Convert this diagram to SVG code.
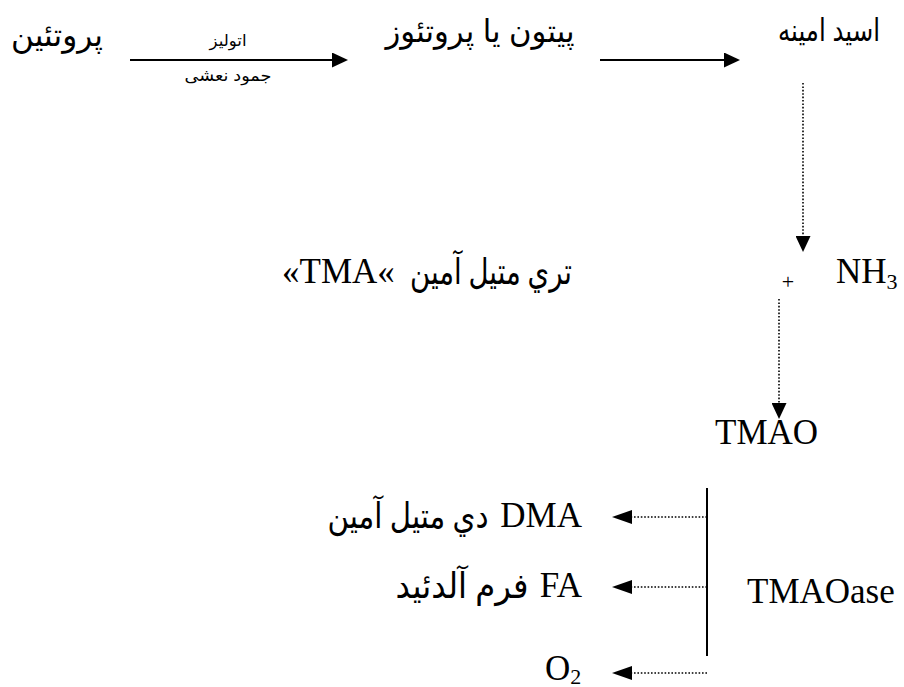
<svg xmlns="http://www.w3.org/2000/svg" width="904" height="687" viewBox="0 0 904 687">
<style>
.ar{font-family:"Liberation Sans","DejaVu Sans",sans-serif;fill:#000;direction:rtl}
.ars{font-family:"Liberation Serif","DejaVu Sans",serif;fill:#000;direction:rtl}
.lat{font-family:"Liberation Serif","Times New Roman",serif;fill:#000;font-size:35px}
.solid{stroke:#000;stroke-width:2;fill:none}
.dot{stroke:#000;stroke-width:1.6;stroke-dasharray:1.6 1.8;fill:none}
</style>
<defs>
<marker id="ah" markerUnits="userSpaceOnUse" viewBox="0 0 16 15" markerWidth="16" markerHeight="15" refX="0" refY="7.5" orient="auto">
<path d="M0,0 L16,7.5 L0,15 z" fill="#000"/>
</marker>
<marker id="ahl" markerUnits="userSpaceOnUse" viewBox="0 0 20 14" markerWidth="20" markerHeight="14" refX="0" refY="7" orient="auto">
<path d="M0,0 L20,7 L0,14 z" fill="#000"/>
</marker>
</defs>
<rect width="904" height="687" fill="#fff"/>
<g id="connectors">
<line class="solid" x1="130" y1="60" x2="332" y2="60" marker-end="url(#ah)"/>
<line class="solid" x1="600" y1="60" x2="724" y2="60" marker-end="url(#ah)"/>
<line class="dot" x1="803" y1="83" x2="803" y2="236" marker-end="url(#ah)"/>
<line class="dot" x1="779" y1="299" x2="779" y2="403" marker-end="url(#ah)"/>
<line class="solid" x1="707" y1="488" x2="707" y2="656"/>
<line class="dot" x1="707" y1="517" x2="632" y2="517" marker-end="url(#ahl)"/>
<line class="dot" x1="707" y1="587" x2="632" y2="587" marker-end="url(#ahl)"/>
<line class="dot" x1="707" y1="673" x2="632" y2="673" marker-end="url(#ahl)"/>
</g>
<g id="protein"><text class="ar" x="57" y="46" font-size="32" text-anchor="middle" textLength="92" lengthAdjust="spacingAndGlyphs">پروتئين</text></g>
<g id="label-autolysis"><text class="ar" x="228" y="46" font-size="16" text-anchor="middle" textLength="37" lengthAdjust="spacingAndGlyphs">اتوليز</text></g>
<g id="label-rigor"><text class="ar" x="228" y="81" font-size="16" text-anchor="middle" textLength="87" lengthAdjust="spacingAndGlyphs">جمود نعشی</text></g>
<g id="peptone"><text class="ar" x="480" y="42" font-size="32" text-anchor="middle" textLength="189" lengthAdjust="spacingAndGlyphs">پيتون يا پروتئوز</text></g>
<g id="amino"><text class="ar" x="829" y="41" font-size="31" text-anchor="middle" textLength="102" lengthAdjust="spacingAndGlyphs">اسيد امينه</text></g>
<g id="tma">
<text class="ars" x="491" y="284" font-size="36" text-anchor="middle" textLength="162" lengthAdjust="spacingAndGlyphs">تري متيل آمين</text>
<text class="lat" x="282" y="283" style="direction:ltr">«TMA«</text>
</g>
<g id="nh3">
<text x="788" y="289" font-family="Liberation Serif,serif" font-size="22" text-anchor="middle">+</text>
<text class="lat" x="836" y="283">NH<tspan font-size="22" dy="6">3</tspan></text>
</g>
<g id="tmao"><text class="lat" x="715" y="444">TMAO</text></g>
<g id="tmaoase"><text class="lat" x="747" y="603">TMAOase</text></g>
<g id="dma">
<text class="ars" x="408" y="528" font-size="35" text-anchor="middle" textLength="161" lengthAdjust="spacingAndGlyphs">دي متيل آمين</text>
<text class="lat" x="582" y="527" text-anchor="end">DMA</text>
</g>
<g id="fa">
<text class="ars" x="462" y="598" font-size="35" text-anchor="middle" textLength="133" lengthAdjust="spacingAndGlyphs">فرم آلدئيد</text>
<text class="lat" x="582" y="597" text-anchor="end">FA</text>
</g>
<g id="o2"><text class="lat" x="545" y="680">O<tspan font-size="22" dy="4">2</tspan></text></g>
</svg>
